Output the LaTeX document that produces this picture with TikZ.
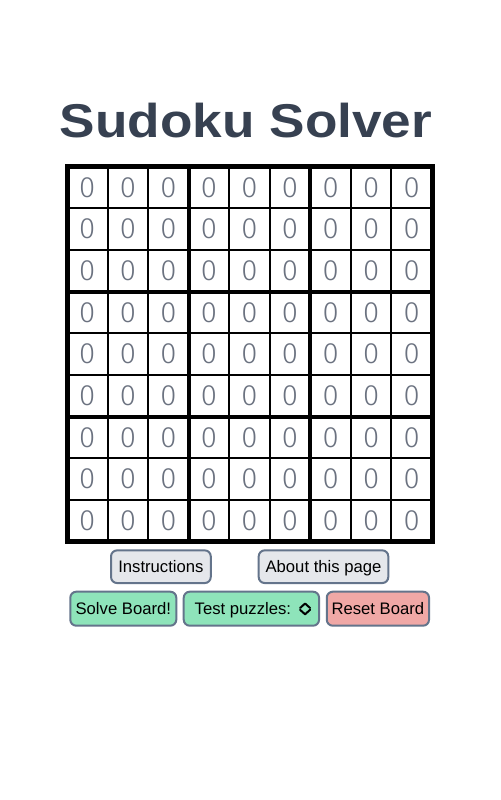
\documentclass[tikz,border=0pt]{standalone}
\usepackage{fontspec}
\setmainfont{Liberation Sans}
\newfontfamily\cellfont{Fira Sans Light}
\usetikzlibrary{calc}
\definecolor{titlecol}{RGB}{55,65,81}
\definecolor{digitcol}{RGB}{107,114,128}
\definecolor{btnedge}{RGB}{100,116,139}
\definecolor{btngray}{RGB}{229,231,235}
\definecolor{btngreen}{RGB}{142,228,186}
\definecolor{btnred}{RGB}{240,168,166}
\def\cw{40.556}
\def\ch{41.667}
\tikzset{
	cell/.style={font=\cellfont\fontsize{22}{22}\selectfont, text=digitcol, inner sep=0pt},
	thinrule/.style={line width=1.5pt, color=black},
	thickrule/.style={line width=3pt, color=black},
	outerrule/.style={line width=3.75pt, color=black},
	btn/.style={draw=btnedge, line width=1.5pt, rounded corners=4.5pt, inner sep=0pt,
		font=\fontsize{12.5}{14}\selectfont, text height=9pt, text depth=0pt},
	chevron/.style={line width=1.5pt, line cap=round, line join=round}
}

\begin{document}
\begin{tikzpicture}[x=0.75pt, y=-0.75pt]
		%%%%% START %%%%%
		
		\useasboundingbox[fill=white] (0, 0) rectangle (500, 800);
		
		\node[anchor=base, text=titlecol, font=\bfseries\fontsize{35.6}{40}\selectfont] (title) at (246, 137) {\scalebox{1.12}[1]{Sudoku Solver}};
		
		\foreach \r in {0,...,8}
			\foreach \c in {0,...,8}
				\node[cell] (c\r\c) at ({67+(\c+0.5)*\cw}, {166.5+(\r+0.5)*\ch}) {0};
		
		\foreach \i in {1,2,4,5,7,8} {
			\draw[thinrule] ({67+\i*\cw}, 166.5) -- ({67+\i*\cw}, 541.5);
			\draw[thinrule] (67, {166.5+\i*\ch}) -- (432, {166.5+\i*\ch});
		}
		\foreach \i in {3,6} {
			\draw[thickrule] ({67+\i*\cw}, 166.5) -- ({67+\i*\cw}, 541.5);
			\draw[thickrule] (67, {166.5+\i*\ch}) -- (432, {166.5+\i*\ch});
		}
		\draw[outerrule] (67, 166.5) rectangle (432, 541.5);
		
		\node[btn, fill=btngray, minimum width=74.8pt, minimum height=24.5pt] (instr) at (160.9, 566.7) {Instructions};
		\node[btn, fill=btngray, minimum width=97.2pt, minimum height=24.5pt] (about) at (323.5, 566.7) {About this page};
		
		\node[btn, fill=btngreen, minimum width=79.5pt, minimum height=25.5pt] (solve) at (123.3, 608.7) {Solve Board!};
		\node[btn, fill=btngreen, minimum width=101.5pt, minimum height=25.5pt] (test) at (251.4, 608.7) {Test puzzles:\kern12.75pt};
		\node[btn, fill=btnred, minimum width=76.7pt, minimum height=25.5pt] (reset) at (377.9, 608.7) {Reset Board};
		
		\draw[chevron] ($(test.east)+(-20, -0.7)$) -- ++(5, -4.5) -- ++(5, 4.5);
		\draw[chevron] ($(test.east)+(-20, 1.1)$) -- ++(5, 4.5) -- ++(5, -4.5);
		
		%%%%% END %%%%%
	\end{tikzpicture}
\end{document}
